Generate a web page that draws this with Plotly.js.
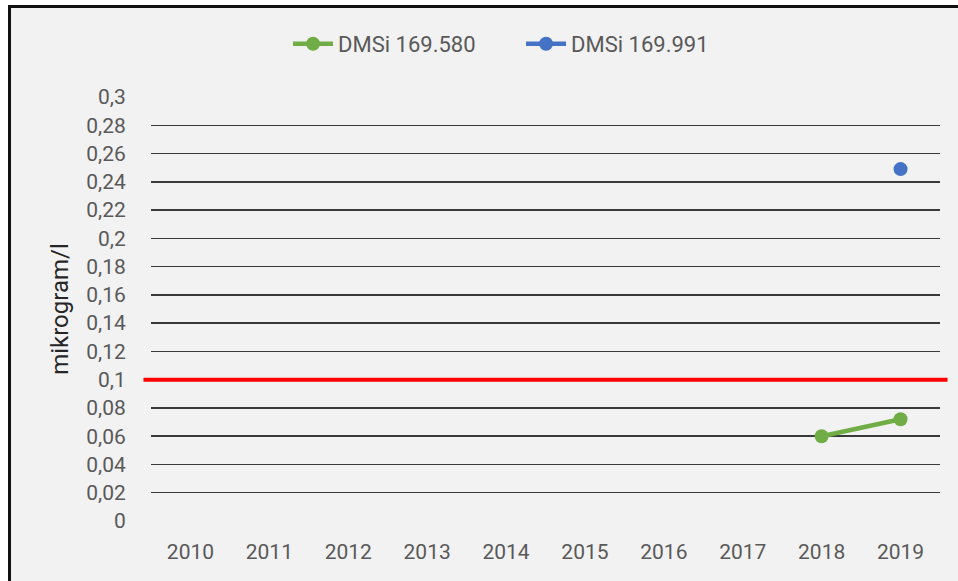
<!DOCTYPE html>
<html>
<head>
<meta charset="utf-8">
<script src="https://cdn.plot.ly/plotly-3.0.1.min.js"></script>
<style>
html,body{margin:0;padding:0;background:#fff;overflow:hidden;}
#frame{position:absolute;left:8px;top:5px;width:1000px;height:620px;border-left:3px solid #111;border-top:3px solid #111;background:#f2f2f2;box-sizing:border-box;}
#chart{position:absolute;left:0;top:0;width:958px;height:581px;}
</style>
</head>
<body>
<div id="frame"></div>
<div id="chart"></div>
<script>
const years = ['2010','2011','2012','2013','2014','2015','2016','2017','2018','2019'];
const seriesA_name = 'DMSi 169.580';
const seriesA_x = ['2018','2019'];
const seriesA_y = [0.060, 0.072];
const seriesB_name = 'DMSi 169.991';
const seriesB_x = ['2019'];
const seriesB_y = [0.249];
const limitValue = 0.1;
const yTitle = 'mikrogram/l';

const font = '"Roboto", sans-serif';

const traces = [
  {x: seriesA_x, y: seriesA_y, name: seriesA_name, type: 'scatter', mode: 'lines+markers',
   line: {color: '#70ad47', width: 4.5}, marker: {color: '#70ad47', size: 14}},
  {x: seriesB_x, y: seriesB_y, name: seriesB_name, type: 'scatter', mode: 'lines+markers',
   line: {color: '#4472c4', width: 4.5}, marker: {color: '#4472c4', size: 14}}
];

const layout = {
  width: 958, height: 581,
  margin: {l: 150.5, r: 17.5, t: 97, b: 60},
  paper_bgcolor: 'rgba(0,0,0,0)', plot_bgcolor: 'rgba(0,0,0,0)',
  separators: ', ',
  font: {family: font, size: 21, color: '#595959'},
  showlegend: true,
  legend: {orientation: 'h', x: 0.469, xanchor: 'center', y: 1.125, yanchor: 'middle',
           font: {family: font, size: 22, color: '#595959'}, itemwidth: 40, entrywidth: 178,
           bgcolor: 'rgba(0,0,0,0)'},
  xaxis: {type: 'category', categoryorder: 'array', categoryarray: years, tickvals: years,
          range: [-0.5, 9.5], showgrid: false, zeroline: false, showline: false,
          ticks: 'outside', ticklen: 12, tickcolor: 'rgba(0,0,0,0)', fixedrange: true},
  yaxis: {range: [0, 0.3], dtick: 0.02, tick0: 0, showgrid: true, gridcolor: '#3a3a3a', gridwidth: 1.5,
          zeroline: false, showline: false, ticks: 'outside', ticklen: 20, tickcolor: 'rgba(0,0,0,0)',
          title: {text: yTitle, font: {family: font, size: 24, color: '#262626'}, standoff: 10}},
  shapes: [
    {type: 'line', xref: 'paper', yref: 'y', x0: -0.0095, x1: 1.0095, y0: limitValue, y1: limitValue,
     line: {color: '#ff0000', width: 4}}
  ]
};

Plotly.newPlot('chart', traces, layout, {displayModeBar: false, staticPlot: true});
</script>
</body>
</html>
